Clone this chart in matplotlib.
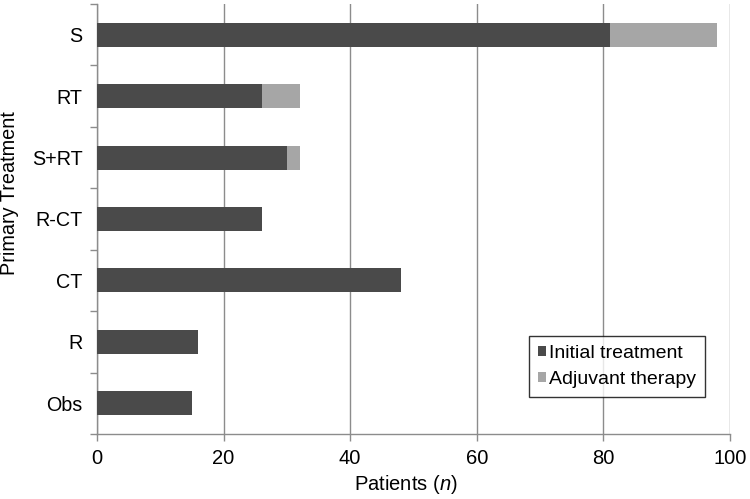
import matplotlib
matplotlib.use("Agg")
import matplotlib.pyplot as plt
import numpy as np

categories = ["S", "RT", "S+RT", "R-CT", "CT", "R", "Obs"]
initial = [81, 26, 30, 26, 48, 16, 15]
adjuvant = [17, 6, 2, 0, 0, 0, 0]
xticks = [0, 20, 40, 60, 80, 100]

plt.rcParams['font.family'] = ['Liberation Sans', 'DejaVu Sans']
plt.rcParams['mathtext.fontset'] = 'custom'
plt.rcParams['mathtext.rm'] = 'Liberation Sans'
plt.rcParams['mathtext.it'] = 'Liberation Sans:italic'

fig = plt.figure(figsize=(7.5, 4.99), dpi=100)
ax = fig.add_axes([0.1293, 0.1303, 0.9733 - 0.1293, 0.992 - 0.1303])

n = len(categories)
y = np.arange(n)[::-1]
dark = '#4a4a4a'
light = '#a6a6a6'
ax.barh(y, initial, height=0.39, color=dark, label='Initial treatment', zorder=3)
ax.barh(y, adjuvant, left=initial, height=0.39, color=light, label='Adjuvant therapy', zorder=3)

ax.set_xlim(0, 100)
ax.set_ylim(-0.5, n - 0.5)
ax.set_xticks(xticks)
ax.set_xticklabels([str(t) for t in xticks], fontsize=14.5)
ax.set_yticks(y)
ax.set_yticklabels(categories, fontsize=14.2)
ax.set_yticks(np.arange(-0.5, n, 1.0), minor=True)

gc = '#8c8c8c'
ax.xaxis.grid(True, color=gc, linewidth=1.0, zorder=0)
ax.set_axisbelow(True)
for s in ['top', 'right']:
    ax.spines[s].set_visible(False)
for s in ['left', 'bottom']:
    ax.spines[s].set_color(gc)
    ax.spines[s].set_linewidth(1.0)

ax.tick_params(axis='y', which='major', length=0, pad=10.5)
ax.tick_params(axis='y', which='minor', length=5, color=gc, width=1.0)
ax.tick_params(axis='x', which='major', length=5, color=gc, width=1.0, pad=5.5)

ax.set_xlabel('Patients ($\\mathit{n}$)', fontsize=14.5)
ax.xaxis.set_label_coords(0.488, -0.091)
ax.set_ylabel('Primary Treatment', fontsize=14.3)
ax.yaxis.set_label_coords(-0.1224, 0.56)

leg = ax.legend(loc='lower right', bbox_to_anchor=(0.9605, 0.086), fontsize=14,
                frameon=True, fancybox=False, edgecolor='black',
                handlelength=0.45, handleheight=0.42, handletextpad=0.15,
                borderpad=0.45, labelspacing=0.5, borderaxespad=0)
leg.get_frame().set_linewidth(1.0)

fig.savefig('out.png', dpi=100)
